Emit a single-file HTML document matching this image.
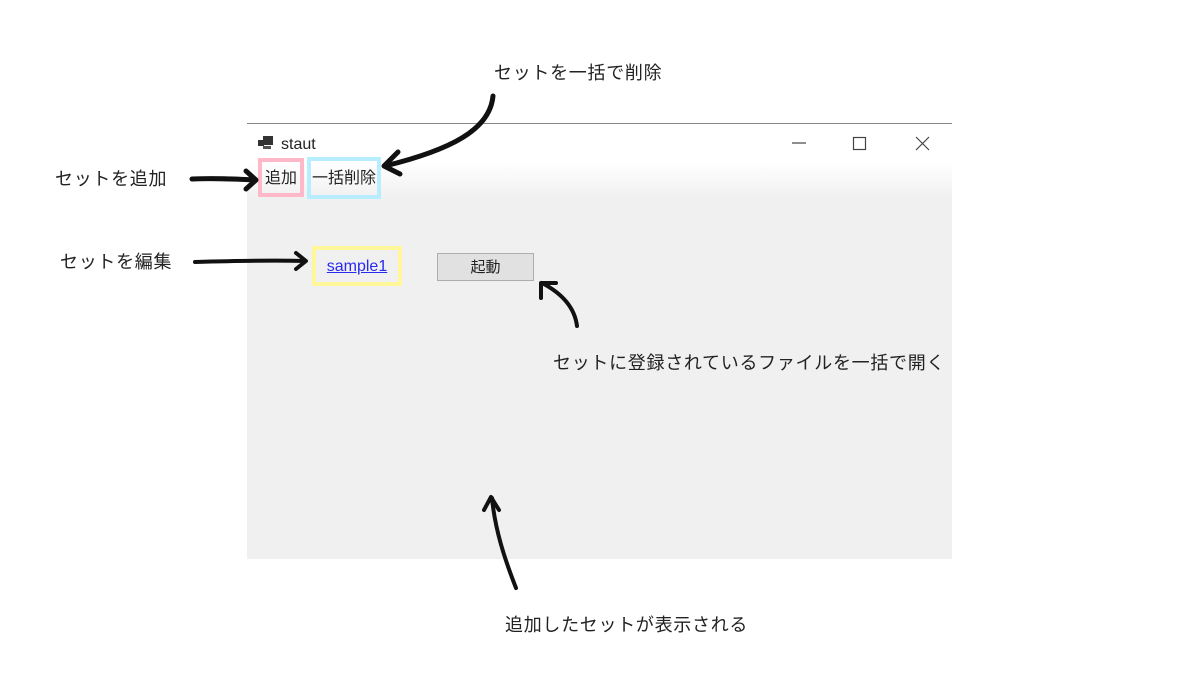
<!DOCTYPE html>
<html><head><meta charset="utf-8"><style>
body{margin:0;width:1200px;height:675px;background:#fff;position:relative;overflow:hidden;font-family:"Liberation Sans","Noto Sans CJK JP",sans-serif;color:#222}
.a{position:absolute;white-space:nowrap;font-size:18px;line-height:20px;letter-spacing:0.7px}
.win{position:absolute;left:247px;top:123px;width:705px;height:435px;background:linear-gradient(#fff 0,#fff 38px,#f0f0f0 75px,#f0f0f0 100%);border-top:1px solid #888}
.b{position:absolute;box-sizing:border-box;font-size:16px;text-align:center}
</style></head><body>
<div class="win"></div>
<svg style="position:absolute;left:258px;top:136px" width="16" height="14"><rect x="5" y="0" width="10" height="9" fill="#333"/><rect x="0" y="4" width="6" height="6" fill="#333"/><rect x="5" y="10" width="8" height="3" fill="#555"/></svg>
<div class="a" style="left:281px;top:135px;font-size:16px;letter-spacing:0">staut</div>
<svg style="position:absolute;left:780px;top:130px" width="160" height="30"><line x1="12" y1="13" x2="26" y2="13" stroke="#444" stroke-width="1.2"/><rect x="73.5" y="7.5" width="12" height="12" fill="none" stroke="#444" stroke-width="1.2"/><path d="M136 7L149 20M149 7L136 20" stroke="#444" stroke-width="1.2"/></svg>
<div class="b" style="left:258px;top:158px;width:46px;height:39px;border:4px solid #ffb8c8;line-height:33px">追加</div>
<div class="b" style="left:307px;top:157px;width:74px;height:42px;border:4px solid #b8ecff;line-height:36px">一括削除</div>
<div class="b" style="left:312px;top:246px;width:90px;height:40px;border:4px solid #fff79a;line-height:34px;color:#2a2aee;text-decoration:underline">sample1</div>
<div class="b" style="left:437px;top:253px;width:97px;height:28px;border:1px solid #adadad;background:#e1e1e1;line-height:28px;font-size:15px">起動</div>
<div class="a" style="left:494px;top:63px">セットを一括で削除</div>
<div class="a" style="left:55px;top:169px">セットを追加</div>
<div class="a" style="left:60px;top:252px">セットを編集</div>
<div class="a" style="left:553px;top:353px">セットに登録されているファイルを一括で開く</div>
<div class="a" style="left:505px;top:615px">追加したセットが表示される</div>
<svg style="position:absolute;left:0;top:0" width="1200" height="675" fill="none" stroke="#111" stroke-linecap="round" stroke-linejoin="round">
<path d="M493 96C490 130 450 150 385 166" stroke-width="5"/><path d="M398 152L384 166L400 174" stroke-width="5"/>
<path d="M192 179C215 178 235 179 255 180" stroke-width="5"/><path d="M246 171L256 180L246 189" stroke-width="5"/>
<path d="M195 262C230 261 270 260 305 261" stroke-width="4"/><path d="M296 253L306 261L296 269" stroke-width="4"/>
<path d="M577 326C575 310 565 295 542 283" stroke-width="4"/><path d="M541 298L541 283L556 283" stroke-width="4"/>
<path d="M516 588C505 560 495 530 492 498" stroke-width="4"/><path d="M484 510L491 497L499 510" stroke-width="4"/>
</svg>
</body></html>
